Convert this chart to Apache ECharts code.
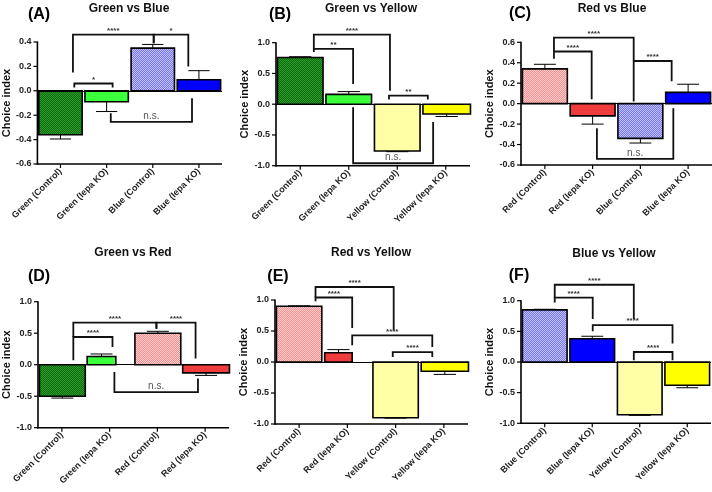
<!DOCTYPE html>
<html><head><meta charset="utf-8">
<script src="https://cdn.jsdelivr.net/npm/echarts@6/dist/echarts.min.js"></script>
<style>html,body{margin:0;padding:0;background:#fff}#c{width:712px;height:492px}</style>
</head><body><div id="c"></div><script>
// ---------- DATA ----------
const catsA = ['Green (Control)','Green (Iepa KO)','Blue (Control)','Blue (Iepa KO)'];
const valsA = [-0.36,-0.09,0.35,0.09];
const errA  = [0.035,0.08,0.03,0.075];
const catsB = ['Green (Control)','Green (Iepa KO)','Yellow (Control)','Yellow (Iepa KO)'];
const valsB = [0.76,0.16,-0.76,-0.16];
const errB  = [0.012,0.045,0.012,0.04];
const catsC = ['Red (Control)','Red (Iepa KO)','Blue (Control)','Blue (Iepa KO)'];
const valsC = [0.34,-0.12,-0.34,0.11];
const errC  = [0.045,0.08,0.045,0.08];
const catsD = ['Green (Control)','Green (Iepa KO)','Red (Control)','Red (Iepa KO)'];
const valsD = [-0.5,0.13,0.5,-0.13];
const errD  = [0.03,0.04,0.03,0.04];
const catsE = ['Red (Control)','Red (Iepa KO)','Yellow (Control)','Yellow (Iepa KO)'];
const valsE = [0.9,0.15,-0.9,-0.15];
const errE  = [0.005,0.05,0.005,0.05];
const catsF = ['Blue (Control)','Blue (Iepa KO)','Yellow (Control)','Yellow (Iepa KO)'];
const valsF = [0.85,0.38,-0.86,-0.38];
const errF  = [0.01,0.04,0.01,0.04];
// significance brackets: [from, to, level, leftEnd, rightEnd, label] (category units / choice index)
const brA = [[0.27,2.02,0.46,0.15,0.39,'****'],[2.02,2.77,0.46,0.39,0.20,'*'],[0.30,1.13,0.06,0.028,0.028,'*'],[1.09,2.85,-0.254,-0.185,-0.062,'n.s.']];
const brB = [[0.28,1.85,1.13,0.90,0.22,'****'],[0.28,1.09,0.90,0.85,0.33,'**'],[1.83,2.63,0.14,0.075,0.075,'**'],[1.09,2.74,-0.96,-0.05,-0.29,'n.s.']];
const brC = [[0.19,1.86,0.645,0.51,0.02,'****'],[0.19,0.98,0.51,0.44,0.043,'****'],[1.86,2.655,0.417,0.417,0.22,'****'],[1.09,2.69,-0.54,-0.24,-0.045,'n.s.']];
const brD = [[0.24,1.98,0.667,0.44,0.57,'****'],[1.98,2.80,0.667,0.57,0.10,'****'],[0.24,1.06,0.44,0.07,0.28,'****'],[1.10,2.85,-0.435,-0.117,-0.22,'n.s.']];
const brE = [[0.34,1.96,1.21,1.04,0.51,'****'],[0.34,1.10,1.04,0.98,0.55,'****'],[1.10,2.76,0.43,0.27,0.24,'****'],[1.94,2.76,0.16,0.08,0.08,'****']];
const brF = [[0.21,1.875,1.26,1.05,0.70,'****'],[0.21,1.01,1.05,0.97,0.70,'****'],[1.01,2.69,0.60,0.50,0.30,'****'],[1.875,2.69,0.163,0.03,0.03,'****']];
const titles = ['Green vs Blue','Green vs Yellow','Red vs Blue','Green vs Red','Red vs Yellow','Blue vs Yellow'];
const tags = ['(A)','(B)','(C)','(D)','(E)','(F)'];
const yName = 'Choice index';

// ---------- STYLE ----------
function pat(base, dot){
  const c = document.createElement('canvas'); c.width = 2; c.height = 2;
  const g = c.getContext('2d'); g.fillStyle = base; g.fillRect(0,0,2,2);
  g.fillStyle = dot; g.fillRect(0,0,1,1); g.fillRect(1,1,1,1);
  return {type:'pattern', image:c, repeat:'repeat'};
}
const F = {
  gC: pat('#0b6e0b','#2f9a2f'), gK: '#3cff3c',
  bC: pat('#7373ff','#c4c4ff'), bK: '#0000ff',
  rC: pat('#ff8c8c','#ffd2d2'), rK: '#ee3b3b',
  yC: pat('#ffff8a','#ffffc4'), yK: '#ffff00'
};
const FONT = '"Liberation Sans", Arial, sans-serif';
const AXC = '#000';
const panels = [
  {cats:catsA, vals:valsA, errs:errA, br:brA, fills:[F.gC,F.gK,F.bC,F.bK], L:36,  T:42,    W:186, H:122,  min:-0.6, max:0.4, step:0.2, tx:129, ty:9,   lx:39,  ly:15,  ng:23, wd:[0.94,0.94,0.94,0.94]},
  {cats:catsB, vals:valsB, errs:errB, br:brB, fills:[F.gC,F.gK,F.yC,F.yK], L:276, T:42.7,  W:194, H:123,  min:-1,   max:1,   step:0.5, tx:371, ty:9,   lx:280, ly:15,  ng:21, wd:[0.94,0.94,0.94,0.98]},
  {cats:catsC, vals:valsC, errs:errC, br:brC, fills:[F.rC,F.rK,F.bC,F.bK], L:521, T:42.3,  W:191, H:122.7,min:-0.6, max:0.6, step:0.2, tx:612, ty:9,   lx:520, ly:14,  ng:25, wd:[0.94,0.94,0.94,0.94]},
  {cats:catsD, vals:valsD, errs:errD, br:brD, fills:[F.gC,F.gK,F.rC,F.rK], L:38,  T:301.7, W:191, H:126,  min:-1,   max:1,   step:0.5, tx:133, ty:253, lx:39,  ly:277, ng:25, wd:[0.96,0.6,0.96,0.98]},
  {cats:catsE, vals:valsE, errs:errE, br:brE, fills:[F.rC,F.rK,F.yC,F.yK], L:275, T:300,   W:193, H:124,  min:-1,   max:1,   step:0.5, tx:371, ty:253, lx:278, ly:277, ng:20, wd:[0.94,0.57,0.94,0.98]},
  {cats:catsF, vals:valsF, errs:errF, br:brF, fills:[F.bC,F.bK,F.yC,F.yK], L:521, T:300.7, W:190, H:122.6,min:-1,   max:1,   step:0.5, tx:614, ty:254, lx:519, ly:276, ng:25, wd:[0.94,0.94,0.94,0.94]}
];

function ux(api, u){ return api.coord([0, 0])[0] + u * api.size([1, 0])[0]; }

const grid = [], xAxis = [], yAxis = [], series = [], graphic = [];
panels.forEach((p, i) => {
  grid.push({left:p.L, top:p.T, width:p.W, height:p.H, show:false});
  xAxis.push({type:'category', gridIndex:i, data:p.cats, boundaryGap:true, position:'bottom',
    axisLine:{show:false, onZero:false}, axisTick:{show:false},
    axisLabel:{show:true, rotate:45, interval:0, margin:6, fontSize:9, fontWeight:'bold', color:'#222', fontFamily:FONT},
    splitLine:{show:false}});
  yAxis.push({type:'value', gridIndex:i, min:p.min, max:p.max, interval:p.step, position:'left',
    axisLine:{show:false, onZero:false}, axisTick:{show:false},
    axisLabel:{formatter:v => v.toFixed(1), fontSize:9, fontWeight:'bold', color:'#222', margin:6, fontFamily:FONT},
    splitLine:{show:false},
    name:yName, nameLocation:'middle', nameGap:p.ng,
    nameTextStyle:{fontSize:11, fontWeight:'bold', color:'#111', fontFamily:FONT}});
  // axis lines and ticks, positioned by the axes' own scales
  series.push({type:'custom', xAxisIndex:i, yAxisIndex:i, clip:false, z:4, silent:true,
    data:[[0, 0]],
    renderItem:(params, api) => {
      const xl = ux(api, -0.5), xr = ux(api, 3.5);
      const yb = api.coord([0, p.min])[1], yt = api.coord([0, p.max])[1];
      const ch = [
        {type:'line', shape:{x1:xl, y1:yt - 0.5, x2:xl, y2:yb + 0.75}, style:{stroke:AXC, lineWidth:1.6}},
        {type:'line', shape:{x1:xl - 0.75, y1:yb, x2:xr, y2:yb}, style:{stroke:AXC, lineWidth:1.6}}
      ];
      const n = Math.round((p.max - p.min) / p.step);
      for (let t = 0; t <= n; t++) {
        const y = api.coord([0, p.min + t * p.step])[1];
        ch.push({type:'line', shape:{x1:xl - 4, y1:y, x2:xl, y2:y}, style:{stroke:AXC, lineWidth:1.2}});
      }
      for (let k = 0; k < p.cats.length; k++) {
        const x = api.coord([k, p.min])[0];
        ch.push({type:'line', shape:{x1:x, y1:yb, x2:x, y2:yb + 4}, style:{stroke:AXC, lineWidth:1.2}});
      }
      return {type:'group', children:ch};
    }
  });
  // bars + one-sided error bars
  series.push({type:'custom', xAxisIndex:i, yAxisIndex:i, clip:false, z:2,
    data:p.vals.map((v,k) => [k, v, p.errs[k]]),
    renderItem:(params, api) => {
      const k = params.dataIndex, v = api.value(1), e = api.value(2);
      const w = p.wd[k], x0 = k - 0.47, x1 = x0 + w, xc = x0 + w/2;
      const y0 = api.coord([k, 0])[1], yv = api.coord([k, v])[1], ye = api.coord([k, v + Math.sign(v)*e])[1];
      const X0 = ux(api, x0), X1 = ux(api, x1), XC = ux(api, xc);
      const ch = api.size([1, 0])[0] * 0.23;
      return {type:'group', children:[
        {type:'line', shape:{x1:XC, y1:yv, x2:XC, y2:ye}, style:{stroke:'#000', lineWidth:1}},
        {type:'line', shape:{x1:XC-ch, y1:ye, x2:XC+ch, y2:ye}, style:{stroke:'#000', lineWidth:1}},
        {type:'rect', shape:{x:Math.min(X0,X1), y:Math.min(y0,yv), width:Math.abs(X1-X0), height:Math.abs(yv-y0)},
          style:{fill:p.fills[k], stroke:'#000', lineWidth:1.6}}
      ]};
    },
    markLine:{silent:true, symbol:'none', label:{show:false}, animation:false,
      lineStyle:{color:'#000', width:1, type:'solid'}, data:[{yAxis:0}]}
  });
  // significance brackets
  series.push({type:'custom', xAxisIndex:i, yAxisIndex:i, clip:false, z:3,
    data:p.br.map((b,k) => [k, b[2]]),
    renderItem:(params, api) => {
      const b = p.br[params.dataIndex];
      const xa = ux(api, b[0]), xb = ux(api, b[1]);
      const yt = api.coord([0, b[2]])[1], yl = api.coord([0, b[3]])[1], yr = api.coord([0, b[4]])[1];
      const ns = b[5] === 'n.s.';
      return {type:'group', children:[
        {type:'polyline', shape:{points:[[xa,yl],[xa,yt],[xb,yt],[xb,yr]]}, style:{stroke:'#111', lineWidth:1.8, fill:null}},
        {type:'text', x:(xa+xb)/2, y:yt - (ns ? 1 : 0),
          style:{text:b[5], textAlign:'center', textVerticalAlign:'bottom',
            font:(ns ? 'normal 10px ' : 'bold 8px ') + FONT, fill: ns ? '#555' : '#333'}}
      ]};
    }
  });
  graphic.push({type:'text', x:p.tx, y:p.ty, style:{text:titles[i], textAlign:'center', textVerticalAlign:'middle', font:'bold 12px '+FONT, fill:'#111'}});
  graphic.push({type:'text', x:p.lx, y:p.ly, style:{text:tags[i], textAlign:'center', textVerticalAlign:'middle', font:'bold 16px '+FONT, fill:'#000'}});
});

const chart = echarts.init(document.getElementById('c'), null, {renderer:'canvas'});
chart.setOption({animation:false, backgroundColor:'#fff', grid, xAxis, yAxis, series, graphic});
</script></body></html>
